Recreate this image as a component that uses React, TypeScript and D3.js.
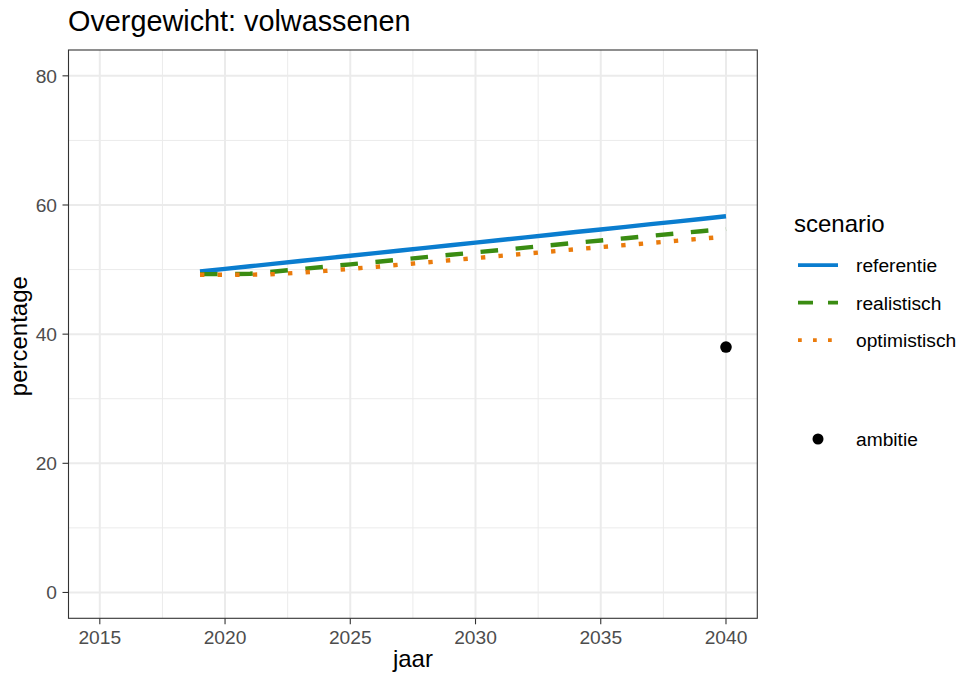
import React from "react";
import * as d3 from "d3";

const years = [2019,2020,2021,2022,2023,2024,2025,2026,2027,2028,2029,2030,2031,2032,2033,2034,2035,2036,2037,2038,2039,2040];
const referentie = [49.7,50.11,50.51,50.92,51.33,51.74,52.14,52.55,52.96,53.36,53.77,54.18,54.58,54.99,55.4,55.81,56.21,56.62,57.03,57.43,57.84,58.25];
const realistisch = [49.3,49.3,49.35,49.7,50.07,50.44,50.81,51.18,51.55,51.92,52.29,52.66,53.03,53.4,53.77,54.14,54.5,54.86,55.22,55.58,55.94,56.3];
const optimistisch = [49.2,49.2,49.2,49.3,49.52,49.8,50.1,50.42,50.76,51.1,51.44,51.78,52.12,52.46,52.8,53.14,53.48,53.8,54.12,54.45,54.78,55.1];
const ambitieYear = [2040];
const ambitieValue = [38];
const xTicks = [2015, 2020, 2025, 2030, 2035, 2040];
const yTicks = [0, 20, 40, 60, 80];
const scenarioNames = ["referentie", "realistisch", "optimistisch"];

const W = 958, H = 675;
const P = { left: 68.5, right: 757.3, top: 50, bottom: 618.3 };
const FONT = "'Liberation Sans', Arial, sans-serif";

export default function App() {
  const x = d3.scaleLinear().domain([2013.75, 2041.25]).range([P.left, P.right]);
  const y = d3.scaleLinear().domain([-4, 84]).range([P.bottom, P.top]);
  const lw = 4.4;
  const styles = [
    { color: "#0a7dcf", dash: "none" },
    { color: "#3a8c12", dash: `${lw * 4},${lw * 4}` },
    { color: "#ea7b0c", dash: `${lw},${lw * 3}` },
  ];
  const series = [referentie, realistisch, optimistisch];
  const line = d3.line<number>().x((_, i) => x(years[i])).y((d) => y(d));
  const xMinor = [2017.5, 2022.5, 2027.5, 2032.5, 2037.5];
  const yMinor = [10, 30, 50, 70];
  const legW = 3.75;
  const legStyles = [
    "none",
    `${legW * 4},${legW * 4}`,
    `${legW},${legW * 3}`,
  ];
  const keyY = [265, 302.7, 340];

  return (
    <svg width={W} height={H} style={{ position: "absolute", left: 0, top: 0 }} fontFamily={FONT}>
      <rect x={0} y={0} width={W} height={H} fill="#fff" />
      {xMinor.map((v) => (
        <line key={"xm" + v} x1={x(v)} x2={x(v)} y1={P.top} y2={P.bottom} stroke="#ebebeb" strokeWidth={1} />
      ))}
      {yMinor.map((v) => (
        <line key={"ym" + v} x1={P.left} x2={P.right} y1={y(v)} y2={y(v)} stroke="#ebebeb" strokeWidth={1} />
      ))}
      {xTicks.map((v) => (
        <line key={"xg" + v} x1={x(v)} x2={x(v)} y1={P.top} y2={P.bottom} stroke="#ebebeb" strokeWidth={2} />
      ))}
      {yTicks.map((v) => (
        <line key={"yg" + v} x1={P.left} x2={P.right} y1={y(v)} y2={y(v)} stroke="#ebebeb" strokeWidth={2} />
      ))}
      {series.map((s, i) => (
        <path
          key={scenarioNames[i]}
          d={line(s) || ""}
          fill="none"
          stroke={styles[i].color}
          strokeWidth={lw}
          strokeDasharray={styles[i].dash}
          strokeLinecap="butt"
        />
      ))}
      {ambitieYear.map((v, i) => (
        <circle key={"a" + i} cx={x(v)} cy={y(ambitieValue[i])} r={5.8} fill="#000" />
      ))}
      <rect x={P.left} y={P.top} width={P.right - P.left} height={P.bottom - P.top} fill="none" stroke="#333" strokeWidth={1.1} />
      {xTicks.map((v) => (
        <g key={"xt" + v}>
          <line x1={x(v)} x2={x(v)} y1={P.bottom} y2={P.bottom + 6} stroke="#333" strokeWidth={1.1} />
          <text x={x(v)} y={643.5} textAnchor="middle" fontSize={19.2} fill="#4d4d4d">{v}</text>
        </g>
      ))}
      {yTicks.map((v) => (
        <g key={"yt" + v}>
          <line x1={P.left - 6} x2={P.left} y1={y(v)} y2={y(v)} stroke="#333" strokeWidth={1.1} />
          <text x={57} y={y(v) + 6.8} textAnchor="end" fontSize={19.2} fill="#4d4d4d">{v}</text>
        </g>
      ))}
      <text x={68} y={31} fontSize={28.8} fill="#000">Overgewicht: volwassenen</text>
      <text x={(P.left + P.right) / 2} y={667} textAnchor="middle" fontSize={24} fill="#000">jaar</text>
      <text transform={`translate(27,${(P.top + P.bottom) / 2 + 2}) rotate(-90)`} textAnchor="middle" fontSize={24} fill="#000">percentage</text>
      <text x={794} y={232} fontSize={24} fill="#000">scenario</text>
      {scenarioNames.map((n, i) => (
        <g key={"leg" + n}>
          <line x1={798} x2={838} y1={keyY[i]} y2={keyY[i]} stroke={styles[i].color} strokeWidth={legW} strokeDasharray={legStyles[i]} />
          <text x={856} y={keyY[i] + 7} fontSize={19.2} fill="#000">{n}</text>
        </g>
      ))}
      <circle cx={818} cy={439} r={5.5} fill="#000" />
      <text x={856} y={446} fontSize={19.2} fill="#000">ambitie</text>
    </svg>
  );
}
